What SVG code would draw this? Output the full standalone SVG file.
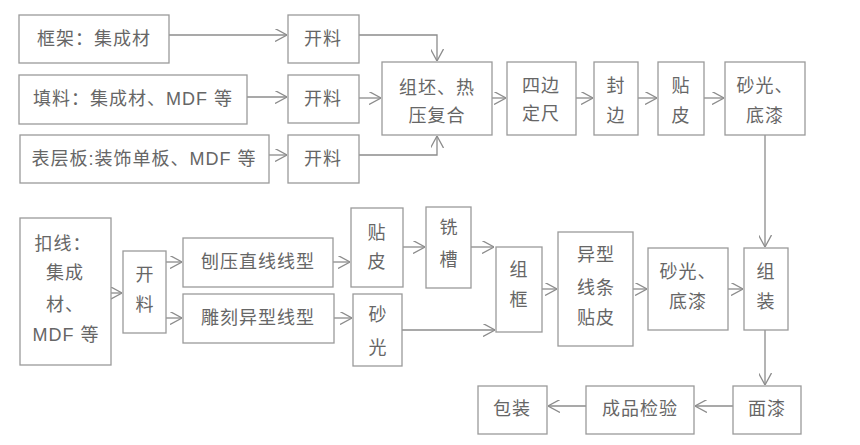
<svg xmlns="http://www.w3.org/2000/svg" width="860" height="445" viewBox="0 0 860 445">
<defs>
<style>
rect{fill:#fff;stroke:#9a9a9a;stroke-width:1.3}
text{font-family:"Liberation Sans","Noto Sans CJK SC",sans-serif;font-size:18px;fill:#666;text-anchor:middle;dominant-baseline:central;letter-spacing:1px}
.c{fill:none;stroke:#8c8c8c;stroke-width:1.3}
</style>
<marker id="ah" viewBox="0 0 12 13" refX="12" refY="6.5" markerWidth="12" markerHeight="13" markerUnits="userSpaceOnUse" orient="auto">
<path d="M0,0 L12,6.5 L0,13" fill="none" stroke="#8c8c8c" stroke-width="1.3"/>
</marker>
</defs>
<rect x="0" y="0" width="860" height="445" style="fill:#fff;stroke:none"/>
<g id="connectors">
<path class="c" marker-end="url(#ah)" d="M169,35 H287"/>
<path class="c" marker-end="url(#ah)" d="M247,97 H287"/>
<path class="c" marker-end="url(#ah)" d="M269,155 H287"/>
<path class="c" marker-end="url(#ah)" d="M359,35 H437 V61"/>
<path class="c" marker-end="url(#ah)" d="M359,98 H381"/>
<path class="c" marker-end="url(#ah)" d="M359,155 H437 V136"/>
<path class="c" marker-end="url(#ah)" d="M492,98 H506"/>
<path class="c" marker-end="url(#ah)" d="M576,98 H593"/>
<path class="c" marker-end="url(#ah)" d="M638,98 H657"/>
<path class="c" marker-end="url(#ah)" d="M704,98 H724"/>
<path class="c" marker-end="url(#ah)" d="M765,135 V247"/>
<path class="c" marker-end="url(#ah)" d="M111,293 H122"/>
<path class="c" marker-end="url(#ah)" d="M166,262 H182"/>
<path class="c" marker-end="url(#ah)" d="M166,318 H182"/>
<path class="c" marker-end="url(#ah)" d="M333,262 H350"/>
<path class="c" marker-end="url(#ah)" d="M334,318 H352"/>
<path class="c" marker-end="url(#ah)" d="M403,247 H425"/>
<path class="c" marker-end="url(#ah)" d="M471,247 H494"/>
<path class="c" marker-end="url(#ah)" d="M402,330 H495"/>
<path class="c" marker-end="url(#ah)" d="M542,289 H557"/>
<path class="c" marker-end="url(#ah)" d="M633,289 H647"/>
<path class="c" marker-end="url(#ah)" d="M728,289 H743"/>
<path class="c" marker-end="url(#ah)" d="M765,330 V385"/>
<path class="c" marker-end="url(#ah)" d="M733,406 H695"/>
<path class="c" marker-end="url(#ah)" d="M586,406 H548"/>
</g>
<g id="n-kuangjia"><rect x="19" y="15" width="150" height="48"/><text x="94" y="39">框架：集成材</text></g>
<g id="n-tianliao"><rect x="19" y="75" width="228" height="49"/><text x="133" y="99">填料：集成材、MDF 等</text></g>
<g id="n-biaocengban"><rect x="20" y="135" width="249" height="48"/><text x="144" y="159">表层板:装饰单板、MDF 等</text></g>
<g id="n-kailiao1"><rect x="288" y="15" width="71" height="48"/><text x="323" y="39">开料</text></g>
<g id="n-kailiao2"><rect x="288" y="75" width="71" height="48"/><text x="323" y="99">开料</text></g>
<g id="n-kailiao3"><rect x="288" y="135" width="71" height="48"/><text x="323" y="159">开料</text></g>
<g id="n-zupi"><rect x="382" y="62" width="110" height="73"/><text x="437" y="88">组坯、热</text><text x="437" y="116">压复合</text></g>
<g id="n-sibian"><rect x="507" y="62" width="69" height="73"/><text x="541" y="86">四边</text><text x="541" y="114">定尺</text></g>
<g id="n-fengbian"><rect x="594" y="62" width="44" height="73"/><text x="616" y="86">封</text><text x="616" y="116">边</text></g>
<g id="n-tiepi1"><rect x="658" y="62" width="46" height="73"/><text x="681" y="86">贴</text><text x="681" y="116">皮</text></g>
<g id="n-shaguang1"><rect x="725" y="62" width="80" height="73"/><text x="765" y="86">砂光、</text><text x="765" y="116">底漆</text></g>
<g id="n-kouxian"><rect x="20" y="218" width="91" height="147"/><text x="63" y="244">扣线：</text><text x="65" y="273">集成</text><text x="65" y="305">材、</text><text x="66" y="335">MDF 等</text></g>
<g id="n-kailiao4"><rect x="123" y="251" width="43" height="82"/><text x="145" y="275">开</text><text x="145" y="305">料</text></g>
<g id="n-baoya"><rect x="183" y="238" width="150" height="49"/><text x="258" y="262">刨压直线线型</text></g>
<g id="n-diaoke"><rect x="183" y="294" width="151" height="49"/><text x="258" y="318">雕刻异型线型</text></g>
<g id="n-tiepi2"><rect x="351" y="208" width="52" height="79"/><text x="377" y="233">贴</text><text x="377" y="262">皮</text></g>
<g id="n-shaguang2"><rect x="353" y="294" width="49" height="72"/><text x="378" y="315">砂</text><text x="378" y="348">光</text></g>
<g id="n-xicao"><rect x="426" y="207" width="45" height="81"/><text x="449" y="228">铣</text><text x="449" y="260">槽</text></g>
<g id="n-zukuang"><rect x="496" y="247" width="46" height="85"/><text x="519" y="270">组</text><text x="519" y="300">框</text></g>
<g id="n-yixing"><rect x="558" y="232" width="75" height="114"/><text x="596" y="255">异型</text><text x="596" y="288">线条</text><text x="596" y="318">贴皮</text></g>
<g id="n-shaguang3"><rect x="648" y="248" width="80" height="82"/><text x="688" y="272">砂光、</text><text x="688" y="302">底漆</text></g>
<g id="n-zuzhuang"><rect x="744" y="248" width="44" height="82"/><text x="766" y="272">组</text><text x="766" y="302">装</text></g>
<g id="n-mianqi"><rect x="733" y="386" width="68" height="48"/><text x="767" y="409">面漆</text></g>
<g id="n-jianyan"><rect x="586" y="386" width="108" height="48"/><text x="640" y="409">成品检验</text></g>
<g id="n-baozhuang"><rect x="478" y="386" width="69" height="48"/><text x="512" y="409">包装</text></g>
</svg>
